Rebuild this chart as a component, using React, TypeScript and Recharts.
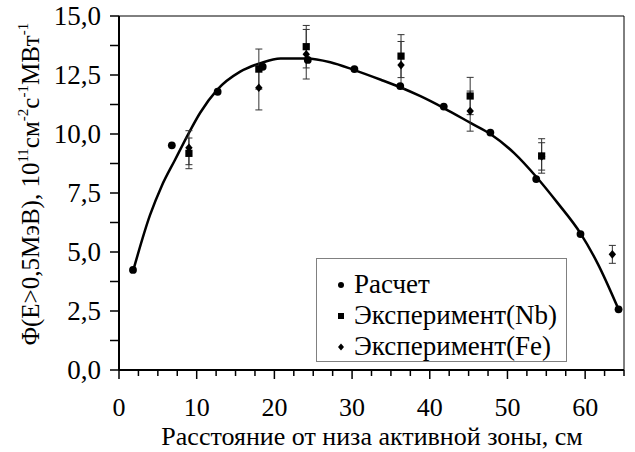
import React from 'react';
import {
  ComposedChart,
  Line,
  Scatter,
  ErrorBar,
  XAxis,
  YAxis,
  ReferenceLine,
  Legend,
} from 'recharts';

// Расчет (calculated points)
const calcX = [1.8, 6.8, 12.7, 18.5, 24.3, 30.3, 36.2, 41.8, 47.8, 53.7, 59.4, 64.3];
const calcY = [4.24, 9.52, 11.79, 12.85, 13.14, 12.75, 12.03, 11.16, 10.06, 8.09, 5.76, 2.57];

// Эксперимент(Nb)
const nbX = [9.0, 18.0, 24.1, 36.3, 45.2, 54.4];
const nbY = [9.18, 12.75, 13.7, 13.3, 11.61, 9.07];
const nbErr = [0.65, 0.85, 0.9, 0.91, 0.79, 0.73];

// Эксперимент(Fe)
const feX = [9.0, 18.0, 24.1, 36.3, 45.2, 54.4, 63.5];
const feY = [9.42, 11.96, 13.38, 12.92, 10.97, 9.05, 4.9];
const feErr = [0.72, 0.94, 1.05, 1.0, 0.85, 0.58, 0.38];

// trend curve
const curveX = [1.85, 4.0, 5.5, 7.2, 9.0, 10.45, 12.6, 15.6, 18.2, 20.8, 24.2, 27.2, 30.2, 33.7, 36.2, 38.8, 41.8, 45.3, 47.8, 50.9, 53.7, 56.5, 59.4, 61.6, 64.3];
const curveY = [4.24, 6.57, 7.8, 8.9, 10.05, 10.9, 11.86, 12.64, 13.0, 13.2, 13.2, 13.04, 12.72, 12.3, 11.98, 11.6, 11.1, 10.46, 10.0, 9.18, 8.19, 7.06, 5.79, 4.52, 2.57];

const xTicks = [0, 2.5, 5, 7.5, 10, 12.5, 15, 17.5, 20, 22.5, 25, 27.5, 30, 32.5, 35, 37.5, 40, 42.5, 45, 47.5, 50, 52.5, 55, 57.5, 60, 62.5, 65];
const yTicks = [0, 1.25, 2.5, 3.75, 5, 6.25, 7.5, 8.75, 10, 11.25, 12.5, 13.75, 15];

const seriesNames = ['Расчет', 'Эксперимент(Nb)', 'Эксперимент(Fe)'];

const FONT = 'Liberation Serif';
const FS = 27;

const calc = calcX.map((x, i) => ({ x, y: calcY[i] }));
const nb = nbX.map((x, i) => ({ x, y: nbY[i], err: nbErr[i] }));
const fe = feX.map((x, i) => ({ x, y: feY[i], err: feErr[i] }));
const curve = curveX.map((x, i) => ({ x, y: curveY[i] }));

const Dot = ({ cx, cy }: any) => <circle cx={cx} cy={cy} r={3.9} fill="#000" />;
const Square = ({ cx, cy }: any) => <rect x={cx - 3.6} y={cy - 3.6} width={7.2} height={7.2} fill="#000" />;
const Diamond = ({ cx, cy }: any) => (
  <path d={`M${cx},${cy - 4.3} L${cx + 3.7},${cy} L${cx},${cy + 4.3} L${cx - 3.7},${cy} Z`} fill="#000" />
);

function XTick({ x, y, payload }: any) {
  const major = payload.value % 10 === 0;
  return (
    <g>
      <line x1={x} y1={y} x2={x} y2={y + (major ? 9 : 6)} stroke="#000" strokeWidth={1.5} />
      {major && (
        <text x={x} y={y + 46} textAnchor="middle" fontFamily={FONT} fontSize={26} fill="#000">
          {payload.value}
        </text>
      )}
    </g>
  );
}

function YTick({ x, y, payload }: any) {
  const v = payload.value;
  const major = Math.abs(v / 2.5 - Math.round(v / 2.5)) < 1e-6;
  return (
    <g>
      <line x1={x - 9} y1={y} x2={x} y2={y} stroke="#000" strokeWidth={1.5} />
      {major && (
        <text x={x - 18} y={y + 9} textAnchor="end" fontFamily={FONT} fontSize={FS} fill="#000">
          {v.toFixed(1).replace('.', ',')}
        </text>
      )}
    </g>
  );
}

function YTitle() {
  return (
    <text transform="translate(39, 184) rotate(-90)" textAnchor="middle" fontFamily={FONT} fontSize={25} fill="#000">
      <tspan>Φ(E&gt;0,5МэВ), 10</tspan>
      <tspan fontSize={15} dy={-11}>11</tspan>
      <tspan dy={11}>см</tspan>
      <tspan fontSize={15} dy={-11}>-2</tspan>
      <tspan dy={11}>с</tspan>
      <tspan fontSize={15} dy={-11}>-1</tspan>
      <tspan dy={11}>МВт</tspan>
      <tspan fontSize={15} dy={-11}>-1</tspan>
    </text>
  );
}

function LegendBox() {
  const icons = [
    <circle cx={25} cy={0} r={3} fill="#000" />,
    <rect x={22} y={-3} width={6} height={6} fill="#000" />,
    <path d="M25,-3.5 L28,0 L25,3.5 L22,0 Z" fill="#000" />,
  ];
  return (
    <svg width={251} height={105} style={{ display: 'block' }}>
      <rect x={0.5} y={0.5} width={250} height={103} fill="#fff" stroke="#808080" strokeWidth={1} />
      {seriesNames.map((n, i) => (
        <g key={n} transform={`translate(0, ${27 + i * 31})`}>
          {icons[i]}
          <text x={38} y={8} fontFamily={FONT} fontSize={FS} fill="#000">
            {n}
          </text>
        </g>
      ))}
    </svg>
  );
}

export default function App() {
  return (
    <div style={{ position: 'absolute', left: 0, top: 0, background: '#fff' }}>
      <ComposedChart width={635} height={452} margin={{ top: 16, right: 11, left: 0, bottom: 0 }}>
        <XAxis
          type="number"
          dataKey="x"
          domain={[0, 65]}
          ticks={xTicks}
          interval={0}
          allowDataOverflow
          height={82}
          tickSize={0}
          tickMargin={0}
          tickLine={false}
          tick={<XTick />}
          axisLine={{ stroke: '#000', strokeWidth: 2 }}
        />
        <YAxis
          type="number"
          dataKey="y"
          domain={[0, 15]}
          ticks={yTicks}
          interval={0}
          allowDataOverflow
          width={119}
          tickSize={0}
          tickMargin={0}
          tickLine={false}
          tick={<YTick />}
          axisLine={{ stroke: '#000', strokeWidth: 2 }}
          label={{ content: () => <YTitle /> }}
        />
        <ReferenceLine y={15} stroke="#000" strokeWidth={1} />
        <ReferenceLine x={65} stroke="#000" strokeWidth={1} />
        <Line
          data={curve}
          dataKey="y"
          type="monotone"
          stroke="#000"
          strokeWidth={2.5}
          dot={false}
          activeDot={false}
          isAnimationActive={false}
          legendType="none"
        />
        <Scatter data={calc} dataKey="y" shape={<Dot />} isAnimationActive={false} name={seriesNames[0]} />
        <Scatter data={fe} dataKey="y" shape={<Diamond />} isAnimationActive={false} name={seriesNames[2]}>
          <ErrorBar dataKey="err" direction="y" width={3.5} stroke="#333" strokeWidth={1} />
        </Scatter>
        <Scatter data={nb} dataKey="y" shape={<Square />} isAnimationActive={false} name={seriesNames[1]}>
          <ErrorBar dataKey="err" direction="y" width={3.5} stroke="#333" strokeWidth={1} />
        </Scatter>
        <Legend
          layout="vertical"
          align="center"
          verticalAlign="middle"
          content={<LegendBox />}
          wrapperStyle={{ left: 316, top: 258, width: 251, height: 105 }}
        />
        <text x={372} y={445} textAnchor="middle" fontFamily={FONT} fontSize={26} fill="#000">
          Расстояние от низа активной зоны, см
        </text>
      </ComposedChart>
    </div>
  );
}
